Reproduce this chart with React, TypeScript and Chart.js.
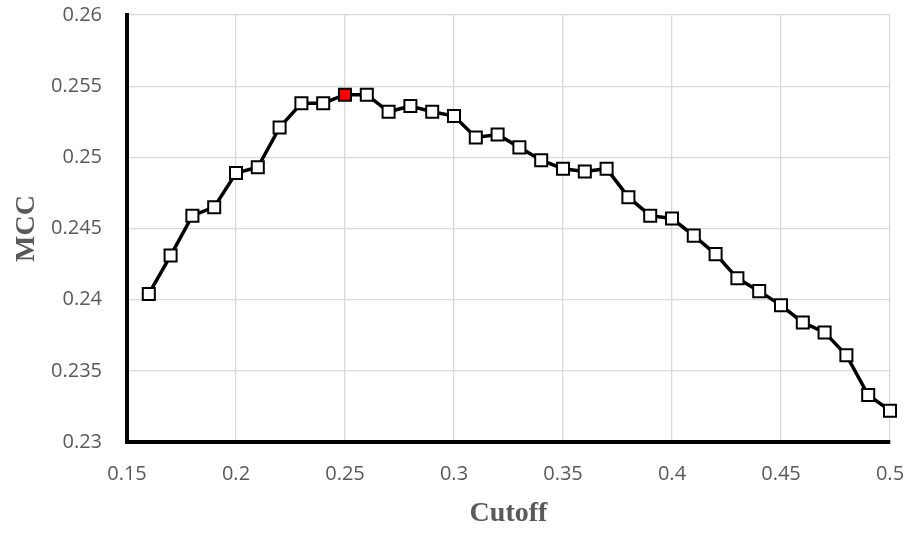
import React, { useEffect, useRef } from "react";
import { Chart, registerables } from "chart.js";

Chart.register(...registerables);

const cutoffs = [
  0.16, 0.17, 0.18, 0.19, 0.2, 0.21, 0.22, 0.23, 0.24, 0.25, 0.26, 0.27,
  0.28, 0.29, 0.3, 0.31, 0.32, 0.33, 0.34, 0.35, 0.36, 0.37, 0.38, 0.39,
  0.4, 0.41, 0.42, 0.43, 0.44, 0.45, 0.46, 0.47, 0.48, 0.49, 0.5,
];
const mccValues = [
  0.2404, 0.2431, 0.2459, 0.2465, 0.2489, 0.2493, 0.2521, 0.2538, 0.2538,
  0.2544, 0.2544, 0.2532, 0.2536, 0.2532, 0.2529, 0.2514, 0.2516, 0.2507,
  0.2498, 0.2492, 0.249, 0.2492, 0.2472, 0.2459, 0.2457, 0.2445, 0.2432,
  0.2415, 0.2406, 0.2396, 0.2384, 0.2377, 0.2361, 0.2333, 0.2322,
];
const bestCutoff = 0.25;
const xTitle = "Cutoff";
const yTitle = "MCC";

export default function App() {
  const ref = useRef<HTMLCanvasElement | null>(null);
  useEffect(() => {
    document.body.style.margin = "0";
    if (!ref.current) return;
    const tickFont = { family: "'Open Sans'", size: 20 };
    const titleFont = {
      family: "'Liberation Serif'",
      size: 28,
      weight: "bold" as const,
      lineHeight: 1.2,
    };
    const chart = new Chart(ref.current, {
      type: "line",
      data: {
        datasets: [
          {
            data: cutoffs.map((c, i) => ({ x: c, y: mccValues[i] })),
            borderColor: "#000000",
            borderWidth: 3.5,
            pointStyle: "rect",
            pointRadius: 8.5,
            pointBorderWidth: 2,
            pointBorderColor: "#000000",
            pointBackgroundColor: cutoffs.map((c) =>
              Math.abs(c - bestCutoff) < 1e-9 ? "#ff0000" : "#ffffff"
            ),
            tension: 0,
            clip: false,
          },
        ],
      },
      options: {
        animation: false,
        responsive: false,
        maintainAspectRatio: false,
        layout: { padding: { left: 0, right: 21, top: 15, bottom: 0 } },
        plugins: { legend: { display: false }, tooltip: { enabled: false } },
        scales: {
          x: {
            type: "linear",
            min: 0.15,
            max: 0.5,
            ticks: {
              stepSize: 0.05,
              color: "#595959",
              font: tickFont,
              padding: 20,
              callback: (v: any) => String(parseFloat(Number(v).toFixed(3))),
            },
            grid: { color: "#d9d9d9", lineWidth: 1.3, drawTicks: false },
            border: { color: "#000000", width: 4 },
            title: {
              display: true,
              text: xTitle,
              color: "#595959",
              font: titleFont,
              padding: { top: 0, bottom: 4 },
            },
            afterFit: (s: any) => {
              s.height = 93;
              s.paddingLeft = 0;
              s.paddingRight = 0;
            },
          },
          y: {
            type: "linear",
            min: 0.23,
            max: 0.26,
            ticks: {
              stepSize: 0.005,
              color: "#595959",
              font: tickFont,
              padding: 25,
              callback: (v: any) => String(parseFloat(Number(v).toFixed(3))),
            },
            grid: { color: "#d9d9d9", lineWidth: 1.3, drawTicks: false },
            border: { color: "#000000", width: 4 },
            title: {
              display: true,
              text: yTitle,
              color: "#595959",
              font: titleFont,
              padding: { top: 10, bottom: 0 },
            },
            afterFit: (s: any) => {
              s.width = 127;
              s.paddingTop = 0;
              s.paddingBottom = 0;
            },
          },
        },
      },
    });
    return () => chart.destroy();
  }, []);
  return (
    <div style={{ width: 911, height: 535, background: "#ffffff" }}>
      <canvas ref={ref} width={911} height={535} style={{ display: "block" }} />
    </div>
  );
}
